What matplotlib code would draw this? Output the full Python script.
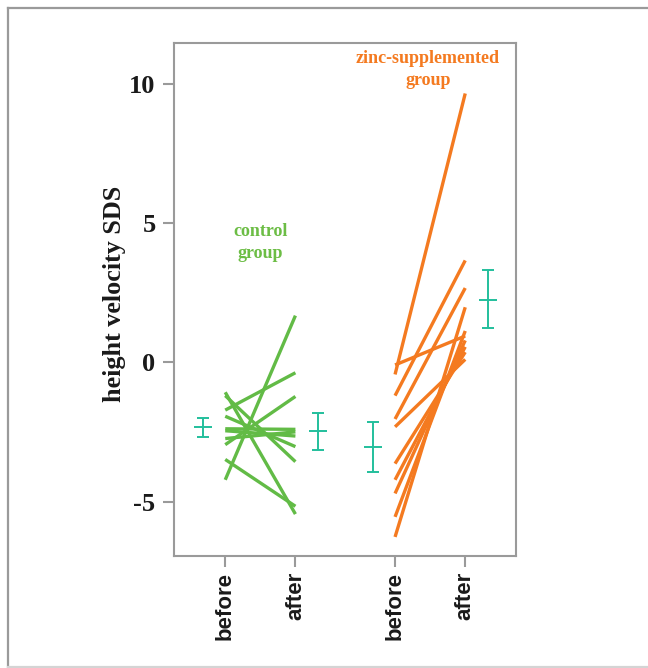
import numpy as np
import matplotlib.pyplot as plt
from matplotlib.lines import Line2D

# individual children, height velocity SDS before / after
control_before = [-4.21, -1.71, -1.07, -1.19, -3.48, -2.95, -1.93, -2.38, -2.45, -2.73]
control_after = [1.68, -0.37, -5.44, -3.56, -5.16, -1.22, -3.02, -2.40, -2.64, -2.49]
zinc_before = [-0.43, -1.19, -2.03, -0.09, -2.31, -6.26, -5.54, -4.70, -4.21, -3.63]
zinc_after = [9.65, 3.66, 2.67, 0.95, 0.11, 1.98, 1.13, 0.79, 0.56, 0.37]

# group mean and spread (error bars)
err_means = [-2.31, -2.47, -3.05, 2.23]
err_low = [-2.66, -3.13, -3.94, 1.22]
err_high = [-1.98, -1.83, -2.15, 3.30]

tick_labels = ['before', 'after', 'before', 'after']
yticks = [-5, 0, 5, 10]

green = '#62bb46'
orange = '#f47a20'
teal = '#22bf9c'
gray = '#9a9a9a'

xpos = [1, 2, 3.42, 4.42]
err_x = [0.68, 2.32, 3.10, 4.74]

fig = plt.figure(figsize=(6.48, 6.68), dpi=100)
ax = fig.add_axes([0.268, 0.167, 0.529, 0.769])

for b, a in zip(control_before, control_after):
    ax.plot([xpos[0], xpos[1]], [b, a], color=green, lw=2.4, solid_capstyle='butt')
for b, a in zip(zinc_before, zinc_after):
    ax.plot([xpos[2], xpos[3]], [b, a], color=orange, lw=2.4, solid_capstyle='butt')

m = np.array(err_means)
yerr = np.array([m - np.array(err_low), np.array(err_high) - m])
ax.errorbar(err_x, m, yerr=yerr, fmt='_', color=teal, ecolor=teal,
            elinewidth=1.4, capsize=4.2, capthick=1.4, markersize=13,
            markeredgewidth=1.4, linestyle='none')

ax.set_xlim(0.265, 5.15)
ax.set_ylim(-6.96, 11.47)
ax.set_xticks(xpos)
ax.set_xticklabels(tick_labels, rotation=90, fontsize=16, fontweight='bold',
                   family='Liberation Sans', color='#1a1a1a')
ax.set_yticks(yticks)
ax.set_yticklabels([str(t) for t in yticks], fontsize=19, fontweight='bold',
                   family='Liberation Serif', color='#1a1a1a')
ax.tick_params(axis='both', direction='out', length=8, width=1.5, color=gray)
ax.tick_params(axis='y', pad=5)
ax.tick_params(axis='x', pad=3)
for s in ax.spines.values():
    s.set_color(gray)
    s.set_linewidth(1.5)

ax.set_ylabel('height velocity SDS', fontsize=18.8, fontweight='bold',
              family='Liberation Serif', color='#1a1a1a')
ax.yaxis.set_label_coords(-0.140, 0.512)

ax.text(1.5, 4.3, 'control\ngroup', color='#6cbd45', fontsize=13, fontweight='bold',
        family='Liberation Serif', ha='center', va='center', linespacing=1.4)
ax.text(3.89, 10.5, 'zinc-supplemented\ngroup', color=orange, fontsize=13,
        fontweight='bold', family='Liberation Serif', ha='center', va='center',
        linespacing=1.4)

# outer frame: left and top dark, bottom light, no right edge
fx = 7.5 / 648
fy_top = 1 - 7.5 / 668
fy_bot = 1.5 / 668
fig.lines.append(Line2D([fx, fx], [fy_bot, fy_top], transform=fig.transFigure,
                        color=gray, lw=1.6))
fig.lines.append(Line2D([fx, 1], [fy_top, fy_top], transform=fig.transFigure,
                        color=gray, lw=1.6))
fig.lines.append(Line2D([fx, 1], [fy_bot, fy_bot], transform=fig.transFigure,
                        color='#d4d4d4', lw=1.6))

fig.savefig('out.png', dpi=100)
